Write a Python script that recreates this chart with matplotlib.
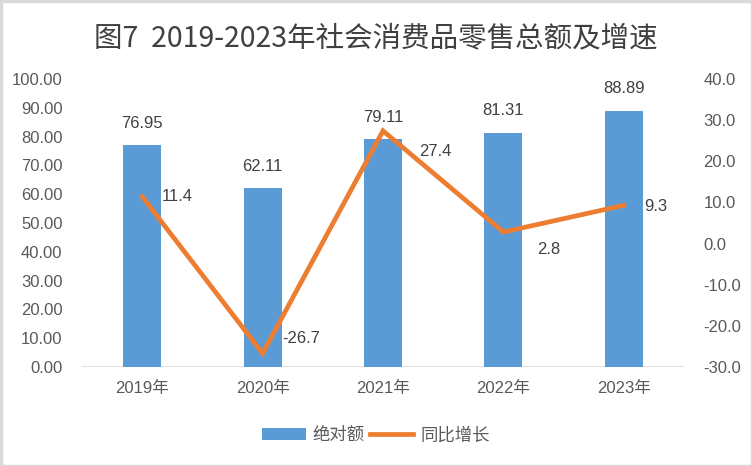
import matplotlib
matplotlib.use("Agg")
import matplotlib.pyplot as plt
from matplotlib.patches import Rectangle
from matplotlib.lines import Line2D
from matplotlib.patches import Patch

plt.rcParams['font.family'] = ['Liberation Sans', 'Noto Sans CJK SC', 'DejaVu Sans']

# ---- data ----
categories = ['2019年', '2020年', '2021年', '2022年', '2023年']
absolute = [76.95, 62.11, 79.11, 81.31, 88.89]
growth = [11.4, -26.7, 27.4, 2.8, 9.3]
left_ticks = [0, 10, 20, 30, 40, 50, 60, 70, 80, 90, 100]
right_ticks = [-30, -20, -10, 0, 10, 20, 30, 40]
title = '图7  2019-2023年社会消费品零售总额及增速'
series_names = ['绝对额', '同比增长']

# ---- style ----
bar_color = '#5B9BD5'
line_color = '#ED7D31'
tick_color = '#595959'
label_color = '#404040'
# label offsets for line data labels (pixels: dx to left edge, dy upward)
growth_label_offsets = [(20, 0), (20, 15), (36, -21), (34, -17), (20, -1)]

fig = plt.figure(figsize=(7.52, 4.66), dpi=100)
fig.patch.set_facecolor('white')
ax = fig.add_axes([82/752, 1 - 367/466, (684 - 82)/752, (367 - 79)/466])
ax2 = ax.twinx()

x = list(range(len(categories)))
ax.bar(x, absolute, width=0.316, color=bar_color, zorder=2)
ax.set_xlim(-0.5, len(categories) - 0.5)
ax.set_ylim(0, 100)
ax.set_yticks(left_ticks)
ax.set_yticklabels([f'{v:.2f}' for v in left_ticks])
ax.set_xticks(x)
ax.set_xticklabels(categories)

ax2.plot(x, growth, color=line_color, linewidth=3.4, solid_joinstyle='miter', zorder=3)
ax2.set_ylim(-30, 40)
ax2.set_yticks(right_ticks)
ax2.set_yticklabels([f'{v:.1f}' for v in right_ticks])

for a in (ax, ax2):
    for s in a.spines.values():
        s.set_visible(False)
    a.tick_params(length=0, colors=tick_color, labelsize=12)
ax.tick_params(axis='y', pad=14)
ax2.tick_params(axis='y', pad=14)
ax.tick_params(axis='x', pad=10)
ax.axhline(0, color='#D9D9D9', linewidth=1.2, zorder=1)

for xi, v in zip(x, absolute):
    ax.annotate(f'{v:.2f}', (xi, v), xytext=(0, 22), textcoords='offset pixels',
                ha='center', va='center', fontsize=12, color=label_color)
for xi, v, (dx, dy) in zip(x, growth, growth_label_offsets):
    ax2.annotate(f'{v:.1f}', (xi, v), xytext=(dx, dy), textcoords='offset pixels',
                 ha='left', va='center', fontsize=12, color=label_color, zorder=4)

fig.text(0.5, 1 - 38/466, title, ha='center', va='center', fontsize=20.5,
         color='#404040', family=['Noto Sans CJK SC', 'DejaVu Sans'])

handles = [Patch(facecolor=bar_color, edgecolor='none'),
           Line2D([0], [0], color=line_color, linewidth=3.4)]
leg = fig.legend(handles, series_names, loc='center', bbox_to_anchor=(376/752, 1 - 435/466),
                 ncol=2, frameon=False, fontsize=12.5, handlelength=2.5, handleheight=0.7,
                 handletextpad=0.4, columnspacing=0.3, borderaxespad=0)
for t in leg.get_texts():
    t.set_color(tick_color)

fig.patches.append(Rectangle((0.5/752, 0.5/466), 1 - 1/752, 1 - 1/466, transform=fig.transFigure,
                             fill=False, edgecolor='#D9D9D9', linewidth=2.5))

fig.savefig('out.png', dpi=100, facecolor='white')
